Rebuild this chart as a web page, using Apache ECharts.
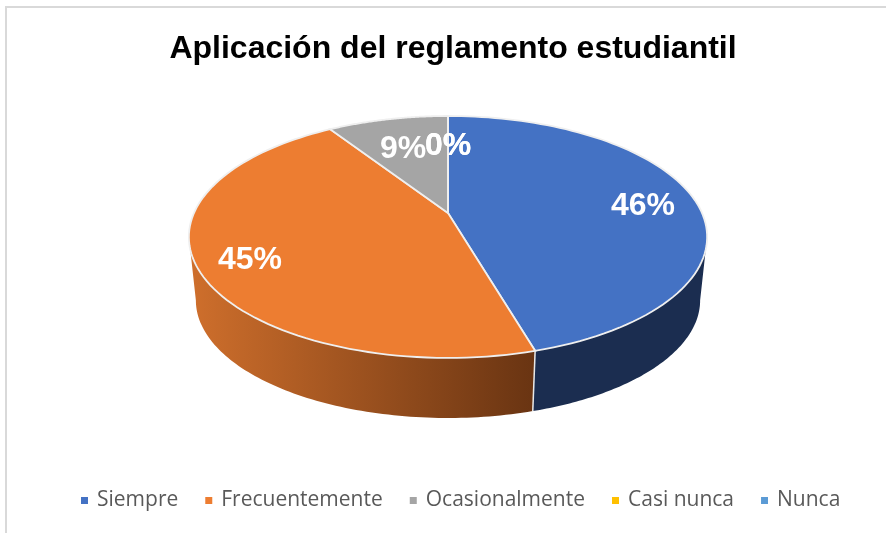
<!DOCTYPE html>
<html>
<head>
<meta charset="utf-8">
<title>Aplicación del reglamento estudiantil</title>
<script src="https://cdn.jsdelivr.net/npm/echarts@6/dist/echarts.min.js"></script>
<style>
html, body { margin: 0; padding: 0; background: #fff; }
#chart { width: 886px; height: 533px; }
</style>
</head>
<body>
<div id="chart"></div>
<script>
var chartTitle = 'Aplicación del reglamento estudiantil'
var categories = ['Siempre', 'Frecuentemente', 'Ocasionalmente', 'Casi nunca', 'Nunca']
var values = [45.52, 45.38, 9.1, 0, 0]
var colors = ['#4472c4', '#ed7d31', '#a5a5a5', '#ffc000', '#5b9bd5']

// perspective of the disc, in pixels
var view = { cx: 448, cy: 213, a: 254, b: 116.2, k: 0.198, depthY: 64, depthScale: 0.973 }
// where Excel left each percent label
var labelSpots = [[643, 206], [250, 260], [403, 149], [448, 146], [448, 146]]

var total = values.reduce(function (s, v) { return s + v }, 0)
// the wall only shows between the two side extremes of the disc
var visFrom = Math.acos(-view.k) / (Math.PI * 2)
var visTo = 1 - visFrom

function project(frac, bottom) {
    var t = frac * Math.PI * 2
    var u = Math.sin(t)
    var v = Math.cos(t)
    var w = 1 + view.k * v
    var s = bottom ? view.depthScale : 1
    return [
        view.cx + s * view.a * u / w,
        view.cy + (bottom ? view.depthY : 0) - s * view.b * v / w
    ]
}

function sliceRange(i) {
    var start = 0
    for (var j = 0; j < i; j++) start += values[j]
    return [start / total, (start + values[i]) / total]
}

function arc(from, to, bottom) {
    var pts = []
    var steps = 90
    for (var n = 0; n <= steps; n++) {
        pts.push(project(from + (to - from) * n / steps, bottom))
    }
    return pts
}

function wallFill(i) {
    if (i === 1) {
        return {
            type: 'linear', x: 0, y: 0, x2: 1, y2: 0,
            colorStops: [
                { offset: 0, color: '#cf6f2c' },
                { offset: 1, color: '#693412' }
            ]
        }
    }
    return i === 0 ? '#1b2d50' : '#63636a'
}

function renderWalls(params) {
    var i = params.dataIndex
    var r = sliceRange(i)
    var from = Math.max(r[0], visFrom)
    var to = Math.min(r[1], visTo)
    if (to <= from) return null
    var pts = arc(from, to, false).concat(arc(from, to, true).reverse())
    var children = [{
        type: 'polygon',
        shape: { points: pts },
        style: { fill: wallFill(i) }
    }]
    if (r[1] < visTo) {
        children.push({
            type: 'polyline',
            z2: 5,
            shape: { points: [project(r[1], false), project(r[1], true)] },
            style: { fill: null, stroke: '#e8e8e8', lineWidth: 1.5 }
        })
    }
    return { type: 'group', children: children }
}

function renderTop(i) {
    return function () {
        var r = sliceRange(i)
        var pts = [[view.cx, view.cy]].concat(arc(r[0], r[1], false))
        return {
            type: 'group',
            children: [{
                type: 'polygon',
                shape: { points: pts },
                style: { fill: colors[i], stroke: '#efefef', lineWidth: 1.8 }
            }, {
                type: 'text',
                z2: 10,
                x: labelSpots[i][0],
                y: labelSpots[i][1],
                style: {
                    text: Math.round(values[i] / total * 100) + '%',
                    fill: '#fff',
                    font: 'bold 32px "Liberation Sans", Arial, sans-serif',
                    align: 'center',
                    verticalAlign: 'middle'
                }
            }]
        }
    }
}

var series = [{
    type: 'custom',
    name: 'paredes',
    coordinateSystem: 'none',
    silent: true,
    renderItem: renderWalls,
    data: values
}]
categories.forEach(function (name, i) {
    series.push({
        type: 'custom',
        name: name,
        coordinateSystem: 'none',
        silent: true,
        itemStyle: { color: colors[i] },
        renderItem: renderTop(i),
        data: [values[i]]
    })
})

var chart = echarts.init(document.getElementById('chart'))
chart.setOption({
    animation: false,
    backgroundColor: '#fff',
    title: {
        text: chartTitle,
        left: 448,
        top: 28,
        textAlign: 'center',
        textStyle: { fontFamily: '"Liberation Sans", Arial, sans-serif', fontWeight: 'bold', fontSize: 32, color: '#000' }
    },
    legend: {
        data: categories,
        left: 76,
        top: 485,
        icon: 'rect',
        itemWidth: 7,
        itemHeight: 7,
        itemGap: 27,
        selectedMode: false,
        textStyle: { fontFamily: '"Open Sans", sans-serif', fontSize: 21, color: '#595959', padding: [0, 0, 0, 4] }
    },
    graphic: [{
        type: 'polyline',
        silent: true,
        shape: { points: [[6, 533], [6, 7], [886, 7]] },
        style: { fill: null, stroke: '#d9d9d9', lineWidth: 2 }
    }],
    series: series
})
</script>
</body>
</html>
